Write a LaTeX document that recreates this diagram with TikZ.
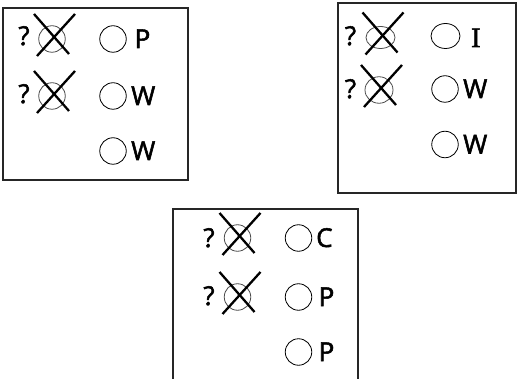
\documentclass[tikz,border=0pt]{standalone}
\usepackage{fontspec}
\setmainfont{Open Sans}[FakeBold=2]
\newfontfamily\serifI{Liberation Serif}[FakeBold=2]
\usetikzlibrary{shapes.geometric}
\begin{document}
\begin{tikzpicture}[x=1pt,y=-1pt,
  box/.style={draw=black!85, line width=1.3pt},
  ring/.style={draw=black, ellipse, line width=0.8pt, inner sep=0pt, minimum width=26.5pt, minimum height=26.5pt},
  oldring/.style={ring, draw=black!70},
  qmark/.style={font=\fontsize{26}{26}\selectfont, inner sep=0pt, anchor=base},
  lbl/.style={font=\fontsize{26}{26}\selectfont, inner sep=0pt, anchor=base west},
  crossline/.style={line width=2.3pt, line cap=butt}]
\useasboundingbox (0,0) rectangle (519,379);

% ---------- box 1 ----------
\draw[box] (3,8) rectangle (188,180);
\node[qmark] (b1q1) at (24,45) {?};
\node[oldring] (b1x1) at (52,39) {};
\node[ring] (b1o1) at (113,39) {};
\node[lbl] (b1l1) at (134.5,48) {P};
\node[qmark] (b1q2) at (24,103) {?};
\node[oldring] (b1x2) at (52,96) {};
\node[ring] (b1o2) at (113,96) {};
\node[lbl] (b1l2) at (131,105) {W};
\node[ring] (b1o3) at (113,151) {};
\node[lbl] (b1l3) at (131,160) {W};

% ---------- box 2 ----------
\draw[box] (338,3) rectangle (516,193);
\node[qmark] (b2q1) at (350.5,45) {?};
\node[oldring, minimum width=29pt, minimum height=22pt] (b2x1) at (380.5,37.5) {};
\node[ring, minimum width=29pt, minimum height=25pt] (b2o1) at (445.5,36) {};
\node[lbl, font=\serifI\fontsize{28}{28}\selectfont] (b2l1) at (471,47) {I};
\node[qmark] (b2q2) at (350.5,98) {?};
\node[oldring, minimum width=28pt] (b2x2) at (379,90) {};
\node[ring] (b2o2) at (445,89) {};
\node[lbl] (b2l2) at (463,98) {W};
\node[ring] (b2o3) at (445,144.5) {};
\node[lbl] (b2l3) at (463,153.5) {W};

% ---------- box 3 ----------
\draw[box] (173,385) -- (173,209) -- (358,209) -- (358,385);
\node[qmark] (b3q1) at (209,247) {?};
\node[oldring] (b3x1) at (237.5,238) {};
\node[ring] (b3o1) at (298.5,238) {};
\node[lbl] (b3l1) at (316,247) {C};
\node[qmark] (b3q2) at (209,305) {?};
\node[oldring] (b3x2) at (237.5,297) {};
\node[ring] (b3o2) at (298.5,297) {};
\node[lbl] (b3l2) at (318.5,306) {P};
\node[ring] (b3o3) at (298.5,352) {};
\node[lbl] (b3l3) at (318.5,361) {P};

% ---------- crosses ----------
\foreach \c in {b1x1,b1x2,b2x1,b2x2,b3x1,b3x2}{
  \draw[crossline] ([shift={(-18,-25)}]\c.center) -- ([shift={(17,15)}]\c.center);
  \draw[crossline] ([shift={(23,-25)}]\c.center) -- ([shift={(-15,17)}]\c.center);
}
\end{tikzpicture}
\end{document}
